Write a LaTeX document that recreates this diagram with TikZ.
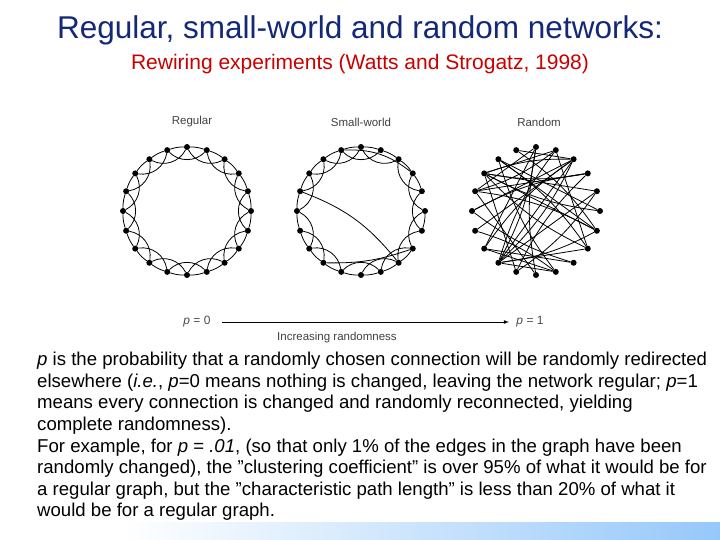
\documentclass[tikz,border=0pt]{standalone}
\usepackage{fontspec}
\setmainfont{Liberation Sans}
\usetikzlibrary{calc}
\begin{document}
\begin{tikzpicture}[x=1pt,y=-1pt,
  dot/.style={circle,fill=black,inner sep=0pt,minimum size=6pt},
  edge/.style={line width=0.8pt},
  lab/.style={font=\fontsize{11.5}{13}\selectfont,text=black!75},
  ttl/.style={font=\fontsize{31.5}{34}\selectfont,text={rgb,255:red,20;green,40;blue,120}},
  sub/.style={font=\fontsize{21}{24}\selectfont,text={rgb,255:red,200;green,0;blue,0}}]
\useasboundingbox (0,0) rectangle (720,540);
\shade[left color=white,right color={rgb,255:red,150;green,200;blue,250}] (122,522) rectangle (720,540);
\node[ttl] (title) at (360,30) {Regular, small-world and random networks:};
\node[sub] (subt) at (360,64) {Rewiring experiments (Watts and Strogatz, 1998)};
\node[lab] (l1) at (192,122) {Regular};
\node[lab] (l2) at (361,122) {Small-world};
\node[lab] (l3) at (539,122) {Random};
% rings
\foreach \c/\cx in {a/187,b/361,c/536}{
  \foreach \i in {1,...,20}{
    \node[dot] (\c\i) at ($(\cx,211)+({90+18*(\i-1)}:64 and -64)$) {};
  }}
% regular
\foreach \i in {1,...,20}{
  \pgfmathtruncatemacro\j{mod(\i,20)+1}
  \pgfmathtruncatemacro\k{mod(\i+1,20)+1}
  \draw[edge] (a\i) to[bend right=9] (a\j);
  \draw[edge] (a\i) to[bend left=45] (a\k);
}
% small world
\foreach \i in {1,...,20}{
  \pgfmathtruncatemacro\j{mod(\i,20)+1}
  \pgfmathtruncatemacro\k{mod(\i+1,20)+1}
  \ifnum\i=14\else\ifnum\i=16\else\draw[edge] (b\i) to[bend right=9] (b\j);\fi\fi
  \ifnum\i=5\else\ifnum\i=18\else\ifnum\i=9\else\draw[edge] (b\i) to[bend left=45] (b\k);\fi\fi\fi
}
\draw[edge] (b5) to[bend left=15] (b13);
\draw[edge] (b9) to[bend right=10] (b14);
\draw[edge] (b18) to[bend right=20] (b2);
% random
\pgfmathsetseed{11}
\foreach \i in {1,...,20}{
  \pgfmathtruncatemacro\j{mod(\i+int(3+random(0,13)),20)+1}
  \pgfmathtruncatemacro\k{mod(\i+int(4+random(0,11)),20)+1}
  \draw[edge] (c\i) -- (c\j);
  \draw[edge] (c\i) to[bend left=10] (c\k);
}
% arrow
\node[font=\fontsize{12}{13}\selectfont\itshape,text=black!70] (p0) at (197,322) {p\upshape\ =\ 0};
\node[font=\fontsize{12}{13}\selectfont\itshape,text=black!70] (p1) at (530,322) {p\upshape\ =\ 1};
\draw[line width=0.8pt,-latex] ($(p0.east)+(8,0)$) coordinate (as) -- ($(p1.west)+(-4,0)$) coordinate (ae);
\node[lab] (inc) at (337,338) {Increasing randomness};
\node[anchor=north west,align=left,font=\fontsize{18.6}{21.6}\selectfont,inner sep=0pt] (body) at (37,352) {%
\textit{p} is the probability that a randomly chosen connection will be randomly redirected\\
elsewhere (\textit{i.e.}, \textit{p}=0 means nothing is changed, leaving the network regular; \textit{p}=1\\
means every connection is changed and randomly reconnected, yielding\\
complete randomness).\\
For example, for \textit{p} = \textit{.01}, (so that only 1\% of the edges in the graph have been\\
randomly changed), the \symbol{34}clustering coefficient\symbol{34} is over 95\% of what it would be for\\
a regular graph, but the \symbol{34}characteristic path length\symbol{34} is less than 20\% of what it\\
would be for a regular graph.};
\end{tikzpicture}
\end{document}
